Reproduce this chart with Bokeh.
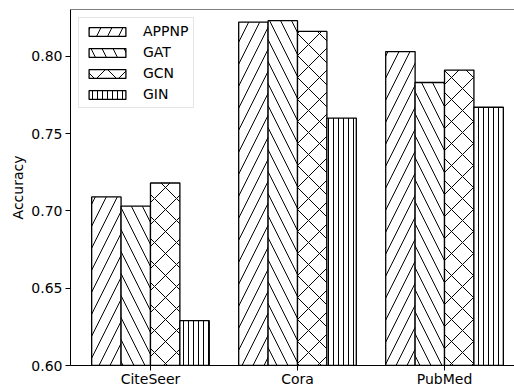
from bokeh.plotting import figure
from bokeh.models import Range1d, FixedTicker, PrintfTickFormatter, Span, Legend, LegendItem, ColumnDataSource
from bokeh.embed import file_html
from bokeh.resources import INLINE
import numpy as np

datasets = ["CiteSeer", "Cora", "PubMed"]
models = ["APPNP", "GAT", "GCN", "GIN"]
appnp = [0.709, 0.822, 0.803]
gat = [0.703, 0.823, 0.783]
gcn = [0.718, 0.816, 0.791]
gin = [0.629, 0.760, 0.767]
y_ticks = [0.60, 0.65, 0.70, 0.75, 0.80]

series = [appnp, gat, gcn, gin]
hatches = ["/", "\\", "x", "|"]
scales = [22, 22, 22, 5]
offsets = [-0.3, -0.1, 0.1, 0.3]
bar_w = 0.2

FONT = "DejaVu Sans"
FS = "14px"

p = figure(output_backend="svg", toolbar_location=None,
           frame_width=444, frame_height=356,
           x_range=Range1d(-0.544, 2.476), y_range=Range1d(0.60, 0.8302),
           min_border_left=70, min_border_top=9, min_border_right=0, min_border_bottom=0)
p.outline_line_color = None
p.xgrid.visible = False
p.ygrid.visible = False
p.background_fill_color = "white"
p.border_fill_color = "white"

xs = np.arange(len(datasets))
items = []
for name, vals, h, sc, off in zip(models, series, hatches, scales, offsets):
    src = ColumnDataSource(dict(x=xs + off, top=vals))
    r = p.vbar(x="x", top="top", bottom=0.60, width=bar_w, source=src,
               fill_color="white", line_color="black", line_width=1.3,
               hatch_pattern=h, hatch_scale=sc, hatch_color="black", hatch_weight=1)
    items.append(LegendItem(label=name, renderers=[r]))

p.add_layout(Span(location=0.8302, dimension="width", line_color="black", line_width=1))

xa = p.xaxis[0]
xa.ticker = FixedTicker(ticks=list(xs))
xa.major_label_overrides = {int(i): d for i, d in zip(xs, datasets)}
ya = p.yaxis[0]
ya.ticker = FixedTicker(ticks=y_ticks)
ya.formatter = PrintfTickFormatter(format="%.2f")
ya.axis_label = "Accuracy"
for ax in (xa, ya):
    ax.axis_line_color = "black"
    ax.axis_line_width = 1
    ax.major_tick_line_color = "black"
    ax.major_tick_in = 0
    ax.major_tick_out = 5
    ax.minor_tick_line_color = None
    ax.major_label_text_font = FONT
    ax.major_label_text_font_size = FS
    ax.major_label_text_color = "black"
    ax.major_label_standoff = 3
    ax.axis_label_text_font = FONT
    ax.axis_label_text_font_size = FS
    ax.axis_label_text_font_style = "normal"
    ax.axis_label_text_color = "black"
    ax.axis_label_standoff = 2
xa.major_label_standoff = 0

legend = Legend(items=items, location="top_left", margin=8, padding=5, spacing=5,
                glyph_width=46, glyph_height=11, label_height=16, label_standoff=13,
                label_text_font=FONT, label_text_font_size=FS, label_text_color="black",
                border_line_color="#cccccc", border_line_width=1,
                background_fill_color="white", background_fill_alpha=0.8)
p.add_layout(legend)

open("out.html", "w").write(file_html(p, INLINE))
